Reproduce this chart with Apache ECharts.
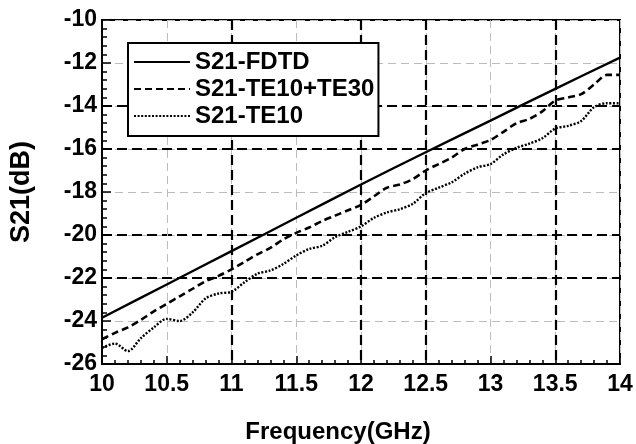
<!DOCTYPE html>
<html>
<head>
<meta charset="utf-8">
<script src="https://cdn.jsdelivr.net/npm/echarts@6/dist/echarts.min.js"></script>
<style>
html,body{margin:0;padding:0;background:#fff;}
#chart{width:636px;height:444px;}
</style>
</head>
<body>
<div id="chart"></div>
<script>
// ---- data ----
var seriesNames = ['S21-FDTD', 'S21-TE10+TE30', 'S21-TE10'];

var freqCoarse = [10.0, 10.5, 11.0, 11.5, 12.0, 12.5, 13.0, 13.5, 14.0];
var s21FDTD = [-23.85, -22.3, -20.75, -19.2, -17.65, -16.15, -14.68, -13.2, -11.75];

var freqFine = [10.0, 10.1, 10.2, 10.3, 10.4, 10.5, 10.6, 10.7, 10.8, 10.9,
                11.0, 11.1, 11.2, 11.3, 11.4, 11.5, 11.6, 11.7, 11.8, 11.9,
                12.0, 12.1, 12.2, 12.3, 12.4, 12.5, 12.6, 12.7, 12.8, 12.9,
                13.0, 13.1, 13.2, 13.3, 13.4, 13.5, 13.6, 13.7, 13.8, 13.9, 14.0];
var s21TE10TE30 = [-24.85, -24.55, -24.3, -23.95, -23.55, -23.2, -22.85, -22.5, -22.15, -21.9,
                   -21.6, -21.25, -20.9, -20.6, -20.2, -19.9, -19.65, -19.35, -19.1, -18.85,
                   -18.6, -18.2, -17.8, -17.65, -17.4, -17.0, -16.7, -16.4, -16.0, -15.8,
                   -15.58, -15.2, -14.8, -14.6, -14.25, -13.75, -13.6, -13.45, -13.0, -12.55, -12.55];
var s21TE10 = [-25.25, -25.05, -25.4, -24.8, -24.3, -23.9, -24.0, -23.6, -22.95, -22.72,
               -22.64, -22.2, -21.8, -21.65, -21.35, -20.95, -20.65, -20.5, -20.1, -19.85,
               -19.6, -19.2, -18.95, -18.8, -18.55, -18.05, -17.8, -17.55, -17.15, -16.85,
               -16.7, -16.25, -15.95, -15.75, -15.5, -15.05, -14.92, -14.7, -14.05, -13.87, -13.87];

var xTicks = {min: 10, max: 14, step: 0.5};
var yTicks = {min: -26, max: -10, step: 2};

// which grid lines are the bold black dashed ones (from min to max, per tick)
var xBoldGrid = [0, 0, 1, 0, 1, 1, 0, 1, 0];
var yBoldGrid = [0, 0, 1, 1, 0, 1, 1, 0, 0];

function pairs(xs, ys) { return xs.map(function (x, i) { return [x, ys[i]]; }); }

var FONT = 'Liberation Sans, Arial, sans-serif';
var chart = echarts.init(document.getElementById('chart'), null, {renderer: 'canvas'});

var boldX = xBoldGrid.map(function (b) { return b ? '#000' : 'rgba(0,0,0,0)'; });
var boldY = yBoldGrid.map(function (b) { return b ? '#000' : 'rgba(0,0,0,0)'; });

var option = {
  backgroundColor: '#fff',
  animation: false,
  grid: {left: 102, top: 20, right: 16, bottom: 80, containLabel: false, outerBoundsMode: 'none',
         show: true, borderColor: '#000', borderWidth: 2, backgroundColor: 'transparent'},
  legend: {
    orient: 'vertical', left: 128, top: 43,
    backgroundColor: '#fff', borderColor: '#000', borderWidth: 2, borderRadius: 0,
    padding: [7, 4, 8, 5],
    itemWidth: 56, itemHeight: 12, itemGap: 3,
    itemStyle: {color: 'rgba(0,0,0,0)', borderColor: 'rgba(0,0,0,0)', borderWidth: 0, opacity: 0},
    textStyle: {fontFamily: FONT, fontWeight: 'bold', fontSize: 24, color: '#000', lineHeight: 24},
    data: seriesNames
  },
  xAxis: [{
    type: 'value', min: xTicks.min, max: xTicks.max, interval: xTicks.step,
    name: 'Frequency(GHz)', nameLocation: 'middle', nameGap: 56,
    nameTextStyle: {fontFamily: FONT, fontWeight: 'bold', fontSize: 24, color: '#000', padding: [0, 46, 0, 0]},
    axisLine: {show: true, lineStyle: {color: '#000', width: 2}},
    axisTick: {show: true, inside: true, length: 8, lineStyle: {color: '#000', width: 1.5}},
    minorTick: {show: true, splitNumber: 5, length: 4, lineStyle: {color: '#000', width: 1.5}},
    axisLabel: {fontFamily: FONT, fontWeight: 'bold', fontSize: 23, color: '#000', margin: 9},
    splitLine: {show: true, lineStyle: {color: '#bcbcbc', width: 1, type: [8, 5]}}
  }, {
    type: 'value', position: 'top', min: xTicks.min, max: xTicks.max, interval: xTicks.step,
    axisLine: {show: false}, axisTick: {show: false}, axisLabel: {show: false},
    splitLine: {show: true, lineStyle: {color: boldX, width: 2.2, type: [10, 5]}}
  }],
  yAxis: [{
    type: 'value', min: yTicks.min, max: yTicks.max, interval: yTicks.step,
    name: 'S21(dB)', nameLocation: 'middle', nameGap: 67, nameRotate: 90,
    nameTextStyle: {fontFamily: FONT, fontWeight: 'bold', fontSize: 27, color: '#000'},
    axisLine: {show: true, lineStyle: {color: '#000', width: 2}},
    axisTick: {show: true, inside: true, length: 9, lineStyle: {color: '#000', width: 1.5}},
    minorTick: {show: true, splitNumber: 5, length: 5, lineStyle: {color: '#000', width: 1.5}},
    axisLabel: {fontFamily: FONT, fontWeight: 'bold', fontSize: 23, color: '#000', margin: 5},
    splitLine: {show: true, lineStyle: {color: '#bcbcbc', width: 1, type: [8, 5]}}
  }, {
    type: 'value', position: 'right', min: yTicks.min, max: yTicks.max, interval: yTicks.step,
    axisLine: {show: false}, axisTick: {show: false}, axisLabel: {show: false},
    splitLine: {show: true, lineStyle: {color: boldY, width: 2.2, type: [10, 5]}}
  }],
  series: [{
    name: seriesNames[0], type: 'line', xAxisIndex: 0, yAxisIndex: 0,
    data: pairs(freqCoarse, s21FDTD), smooth: 0.3, symbol: 'none',
    lineStyle: {color: '#000', width: 2.4, type: 'solid'}, z: 5
  }, {
    name: seriesNames[1], type: 'line', xAxisIndex: 0, yAxisIndex: 0,
    data: pairs(freqFine, s21TE10TE30), smooth: 0.3, symbol: 'none',
    lineStyle: {color: '#000', width: 2.6, type: [7, 4]}, z: 5
  }, {
    name: seriesNames[2], type: 'line', xAxisIndex: 0, yAxisIndex: 0,
    data: pairs(freqFine, s21TE10), smooth: 0.3, symbol: 'none',
    lineStyle: {color: '#000', width: 2.4, type: [2, 1.6]}, z: 5
  }]
};
chart.setOption(option);
</script>
</body>
</html>
